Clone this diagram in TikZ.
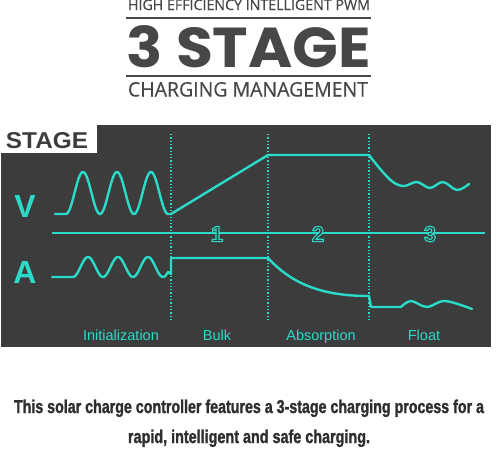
\documentclass[tikz,border=0pt]{standalone}
\usepackage{fontspec}
\usepackage{graphicx}
\setmainfont{Liberation Sans}
\newfontfamily\titlefont{Open Sans}[FakeBold=0.3]
\newfontfamily\bigfont{Poppins}
\newfontfamily\heavy{Liberation Sans}[BoldFeatures={FakeBold=1.6}]
\newfontfamily\digitfont{Liberation Sans}[BoldFeatures={FakeBold=5}]
\newcommand{\outlinedigit}[1]{\special{pdf:literal direct 0.165 0.859 0.788 RG}#1}
\definecolor{cy}{HTML}{2ADBC9}
\definecolor{panel}{HTML}{3C3C3C}
\definecolor{titlegray}{HTML}{474747}
\definecolor{bottomtext}{HTML}{2E2E2E}
\tikzset{
  wave/.style={cy, line width=2.4pt, line join=round, line cap=round},
  axisline/.style={cy, line width=2pt},
  divider/.style={cy, line width=1.3pt, dotted},
  stagelabel/.style={text=cy, font=\fontsize{14.5}{16}\selectfont, anchor=base, inner sep=0pt},
  digit/.style={text=panel, font=\fontsize{22}{24}\selectfont\digitfont\bfseries, inner sep=0pt},
  axislabel/.style={text=cy, font=\fontsize{32}{34}\selectfont\bfseries, anchor=base, inner sep=0pt},
  titlerule/.style={titlegray, line width=2pt},
}
\begin{document}
\begin{tikzpicture}[x=1pt,y=-1pt]
\useasboundingbox (0,0) rectangle (499,450);
\fill[white] (0,0) rectangle (499,450);
% title
\node[anchor=base, inner sep=0pt, text=titlegray] (t1) at (249,10) {\resizebox{242pt}{10.5pt}{\titlefont HIGH EFFICIENCY INTELLIGENT PWM}};
\draw[titlerule] (126,18) coordinate (r1a) -- (371,18) coordinate (r1b);
\node[anchor=base, inner sep=0pt, text=titlegray] (t2) at (249,67) {\resizebox{244pt}{42pt}{\bigfont\bfseries 3 STAGE}};
\draw[titlerule] (126,76) coordinate (r2a) -- (371,76) coordinate (r2b);
\node[anchor=base, inner sep=0pt, text=titlegray] (t3) at (248,96.5) {\resizebox{240pt}{14.5pt}{\titlefont CHARGING MANAGEMENT}};
% panel
\fill[panel] (1,125) rectangle (491,347);
\fill[white] (1,125) rectangle (97,153);
\node[anchor=base, inner sep=0pt, text=panel] (stage) at (47,148) {\resizebox{82pt}{16pt}{\bfseries STAGE}};
% dividers
\draw[divider] (171,134) coordinate (d1a) -- (171,322) coordinate (d1b);
\draw[divider] (268,134) coordinate (d2a) -- (268,322) coordinate (d2b);
\draw[divider] (369,134) coordinate (d3a) -- (369,322) coordinate (d3b);
% axis
\draw[axisline] (52,233) coordinate (ax0) -- (485,233) coordinate (ax1);
\node[digit] (n1) at (217,234) {\outlinedigit{1}};
\node[digit] (n2) at (318,234) {\outlinedigit{2}};
\node[digit] (n3) at (430,234) {\outlinedigit{3}};
% labels
\node[axislabel] (V) at (25,217) {V};
\node[axislabel] (A) at (25,283) {A};
% V curve
\draw[wave] (55,214) -- (66,214)
  -- plot[domain=66:168, samples=120] (\x, {193-21*cos((\x-83)/34*360)})
  -- (171,214) -- (268,155) -- (369,155)
  plot[smooth, tension=0.6] coordinates {(369,155) (381,170) (393,182) (404,186) (417,182) (430,188) (443,182) (457,190) (469,184)};
% A curve
\draw[wave] (52,277) -- (73,277)
  -- plot[domain=73:168, samples=120] (\x, {267-10*cos((\x-88)/30*360)})
  -- (171,274) -- (171,258) -- (268,258)
  .. controls (292,284) and (322,296) .. (369,296)
  -- (371,307) -- (401,307)
  plot[smooth, tension=0.6] coordinates {(401,307) (411,301) (427,307) (445,301) (472,309)};
% stage labels
\node[stagelabel] (l1) at (121,340) {Initialization};
\node[stagelabel] (l2) at (217,340) {Bulk};
\node[stagelabel] (l3) at (321,340) {Absorption};
\node[stagelabel] (l4) at (424,340) {Float};
% bottom text
\node[anchor=base, inner sep=0pt, text=bottomtext] (b1) at (249,413) {\resizebox{470pt}{13.5pt}{\heavy\bfseries This solar charge controller features a 3-stage charging process for a}};
\node[anchor=base, inner sep=0pt, text=bottomtext] (b2) at (249,443) {\resizebox{242pt}{13.5pt}{\heavy\bfseries rapid, intelligent and safe charging.}};
\end{tikzpicture}
\end{document}
